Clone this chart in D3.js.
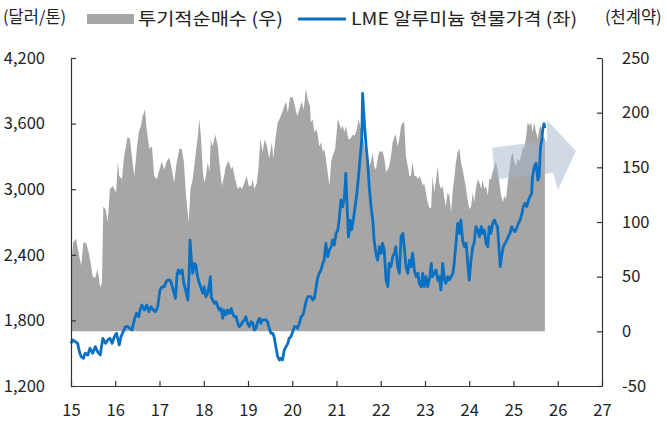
<!DOCTYPE html>
<html>
<head>
<meta charset="utf-8">
<script src="https://cdn.jsdelivr.net/npm/d3@7"></script>
<style>
  body { margin: 0; background: #fff; }
  svg text { font-family: "Noto Sans CJK KR", "Noto Sans", sans-serif; fill: #222; }
</style>
</head>
<body>
<svg id="chart"></svg>
<script>
// x values are positions on the year axis (15 = 2015 ... 27 = 2027)
const yearTicks = [15, 16, 17, 18, 19, 20, 21, 22, 23, 24, 25, 26, 27];
const priceTicks = [1200, 1800, 2400, 3000, 3600, 4200];
const contractTicks = [-50, 0, 50, 100, 150, 200, 250];

// speculative net long, thousand contracts (right axis)
const netLong = [
  [15.00,55],[15.05,81],[15.11,85],[15.17,72],[15.23,60],[15.28,81],[15.34,81],[15.40,72],[15.45,61],[15.49,50],
  [15.55,49],[15.60,57],[15.66,40],[15.70,45],[15.73,114],[15.78,112],[15.83,100],[15.88,130],[15.94,133],[16.02,127],
  [16.06,155],[16.09,142],[16.15,139],[16.20,160],[16.28,178],[16.33,176],[16.39,155],[16.43,142],[16.48,164],[16.53,182],
  [16.58,188],[16.62,197],[16.67,203],[16.71,185],[16.77,167],[16.83,169],[16.88,142],[16.94,139],[17.00,148],[17.05,155],
  [17.11,148],[17.16,155],[17.22,159],[17.28,148],[17.33,136],[17.39,155],[17.45,167],[17.50,167],[17.55,155],[17.60,124],
  [17.66,100],[17.70,130],[17.75,139],[17.81,160],[17.86,176],[17.90,194],[17.94,176],[17.98,146],[18.01,136],[18.05,142],
  [18.09,155],[18.13,146],[18.16,176],[18.20,169],[18.26,180],[18.32,169],[18.35,155],[18.41,133],[18.46,142],[18.50,151],
  [18.56,156],[18.62,148],[18.65,151],[18.71,139],[18.77,130],[18.82,133],[18.86,130],[18.92,136],[18.97,142],[19.02,133],
  [19.07,133],[19.11,139],[19.14,130],[19.20,136],[19.24,151],[19.28,176],[19.33,164],[19.38,176],[19.43,169],[19.48,158],
  [19.54,173],[19.57,158],[19.62,176],[19.67,191],[19.71,194],[19.77,200],[19.82,206],[19.86,210],[19.90,200],[19.95,214],
  [20.01,214],[20.06,206],[20.11,197],[20.16,203],[20.21,210],[20.26,203],[20.31,222],[20.35,212],[20.40,206],[20.42,191],
  [20.46,194],[20.50,182],[20.54,185],[20.58,179],[20.61,169],[20.65,173],[20.69,164],[20.72,167],[20.76,158],[20.80,146],
  [20.84,133],[20.88,155],[20.91,160],[20.97,167],[21.03,194],[21.06,191],[21.10,185],[21.14,188],[21.18,182],[21.21,188],
  [21.27,176],[21.31,176],[21.37,180],[21.41,179],[21.46,185],[21.50,194],[21.55,185],[21.59,179],[21.63,169],[21.67,158],
  [21.70,160],[21.74,151],[21.78,155],[21.82,164],[21.85,151],[21.89,148],[21.93,158],[21.97,165],[22.01,164],[22.04,165],
  [22.08,158],[22.12,146],[22.16,148],[22.19,151],[22.23,160],[22.27,173],[22.31,178],[22.34,180],[22.38,169],[22.42,176],
  [22.46,188],[22.50,191],[22.53,191],[22.57,160],[22.61,151],[22.65,142],[22.68,142],[22.72,155],[22.76,142],[22.80,142],
  [22.84,139],[22.87,142],[22.91,139],[22.95,133],[22.98,136],[23.02,127],[23.06,118],[23.11,112],[23.14,114],[23.17,142],
  [23.21,127],[23.25,139],[23.29,151],[23.32,136],[23.36,130],[23.40,133],[23.44,121],[23.47,114],[23.51,127],[23.55,124],
  [23.59,109],[23.63,130],[23.66,139],[23.70,155],[23.74,164],[23.78,167],[23.81,155],[23.85,148],[23.89,139],[23.93,130],
  [23.96,121],[24.00,112],[24.04,114],[24.08,127],[24.11,118],[24.15,130],[24.19,139],[24.23,136],[24.27,130],[24.30,139],
  [24.34,130],[24.38,133],[24.42,124],[24.45,139],[24.49,139],[24.53,146],[24.57,151],[24.60,155],[24.64,148],[24.68,136],
  [24.72,124],[24.76,118],[24.79,124],[24.83,121],[24.87,136],[24.91,148],[24.94,158],[24.98,164],[25.02,155],[25.06,151],
  [25.09,158],[25.13,155],[25.17,160],[25.21,169],[25.24,167],[25.28,176],[25.32,191],[25.36,188],[25.40,191],[25.43,182],
  [25.47,191],[25.51,182],[25.55,176],[25.58,185],[25.62,188],[25.66,179],[25.71,176]
];

// LME aluminium cash price, $/t (left axis)
const lmePrice = [
  [15.00,1590],[15.04,1621],[15.10,1605],[15.15,1590],[15.19,1514],[15.23,1468],[15.28,1453],[15.32,1499],[15.38,1484],[15.43,1545],
  [15.49,1499],[15.55,1560],[15.60,1514],[15.66,1484],[15.72,1636],[15.78,1590],[15.83,1621],[15.88,1636],[15.93,1590],[15.98,1651],
  [16.03,1682],[16.09,1575],[16.13,1651],[16.18,1697],[16.23,1743],[16.28,1743],[16.33,1728],[16.38,1712],[16.43,1804],[16.48,1865],
  [16.53,1834],[16.56,1895],[16.60,1941],[16.66,1895],[16.71,1941],[16.76,1880],[16.81,1925],[16.86,1895],[16.91,1880],[16.96,1925],
  [17.01,2078],[17.06,2108],[17.11,2108],[17.15,2154],[17.19,2169],[17.24,2169],[17.28,2124],[17.31,2078],[17.36,2002],[17.40,2231],
  [17.43,2261],[17.46,2231],[17.51,2261],[17.55,2139],[17.58,2094],[17.64,1987],[17.67,2231],[17.69,2535],[17.72,2352],[17.75,2231],
  [17.79,2322],[17.82,2307],[17.86,2200],[17.90,2139],[17.94,2094],[17.98,2048],[18.01,2108],[18.05,2017],[18.09,2048],[18.13,2139],
  [18.15,2200],[18.17,2017],[18.20,1987],[18.24,1957],[18.28,1971],[18.32,1925],[18.35,1895],[18.39,1910],[18.43,1819],[18.46,1895],
  [18.50,1849],[18.54,1895],[18.58,1865],[18.62,1910],[18.65,1865],[18.69,1834],[18.73,1834],[18.77,1773],[18.80,1743],[18.84,1758],
  [18.88,1788],[18.92,1804],[18.95,1834],[18.99,1773],[19.03,1743],[19.07,1788],[19.11,1773],[19.14,1712],[19.18,1728],[19.22,1788],
  [19.26,1819],[19.29,1773],[19.33,1804],[19.37,1804],[19.41,1804],[19.44,1788],[19.48,1728],[19.52,1682],[19.56,1682],[19.59,1651],
  [19.63,1560],[19.67,1468],[19.71,1438],[19.75,1453],[19.78,1438],[19.82,1529],[19.86,1560],[19.90,1590],[19.93,1636],[19.97,1651],
  [20.01,1697],[20.05,1743],[20.08,1743],[20.12,1728],[20.16,1773],[20.20,1834],[20.24,1849],[20.27,1895],[20.31,1971],[20.35,2017],
  [20.40,2017],[20.42,2017],[20.46,1987],[20.50,2002],[20.54,2108],[20.58,2200],[20.61,2231],[20.65,2261],[20.69,2322],[20.72,2352],
  [20.76,2505],[20.80,2383],[20.84,2444],[20.88,2474],[20.91,2535],[20.95,2489],[20.99,2596],[21.03,2627],[21.06,2718],[21.10,2901],
  [21.14,2840],[21.18,2931],[21.21,3145],[21.24,2840],[21.27,2565],[21.31,2718],[21.34,2627],[21.38,2718],[21.42,2840],[21.46,2962],
  [21.49,3084],[21.53,3267],[21.57,3450],[21.59,3877],[21.63,3603],[21.67,3389],[21.70,3267],[21.74,3023],[21.78,2840],[21.82,2718],
  [21.85,2535],[21.89,2414],[21.93,2352],[21.97,2474],[22.01,2414],[22.04,2505],[22.08,2444],[22.12,2169],[22.16,2108],[22.19,2322],
  [22.23,2291],[22.27,2383],[22.31,2414],[22.34,2474],[22.38,2291],[22.42,2231],[22.46,2565],[22.50,2596],[22.53,2474],[22.57,2291],
  [22.61,2231],[22.65,2352],[22.68,2291],[22.72,2414],[22.76,2261],[22.80,2200],[22.84,2231],[22.87,2139],[22.91,2108],[22.95,2231],
  [22.98,2108],[23.02,2200],[23.06,2108],[23.11,2200],[23.14,2322],[23.17,2200],[23.21,2231],[23.25,2261],[23.29,2169],[23.32,2200],
  [23.36,2078],[23.40,2322],[23.44,2169],[23.47,2139],[23.51,2200],[23.55,2169],[23.59,2200],[23.63,2231],[23.66,2322],[23.70,2505],
  [23.74,2688],[23.78,2596],[23.81,2718],[23.85,2535],[23.89,2474],[23.93,2505],[23.96,2352],[24.00,2169],[24.04,2352],[24.08,2474],
  [24.11,2505],[24.15,2657],[24.19,2627],[24.23,2565],[24.27,2657],[24.30,2596],[24.34,2627],[24.38,2505],[24.42,2474],[24.45,2657],
  [24.49,2596],[24.53,2688],[24.57,2718],[24.60,2688],[24.64,2657],[24.68,2414],[24.70,2291],[24.73,2383],[24.77,2474],[24.81,2505],
  [24.85,2535],[24.88,2565],[24.92,2596],[24.96,2657],[25.00,2627],[25.03,2611],[25.07,2642],[25.11,2688],[25.15,2718],[25.19,2779],
  [25.22,2840],[25.26,2871],[25.30,2840],[25.34,2901],[25.37,2931],[25.41,2962],[25.43,3114],[25.47,3206],[25.51,3237],[25.55,3084],
  [25.58,3114],[25.61,3389],[25.64,3450],[25.66,3541],[25.69,3600],[25.71,3560]
];

// trend arrow outline, in (year, thousand contracts) units
const arrowOutline = [
  [24.52,168],[25.76,174],[25.76,193],[26.41,165],[26.00,129],[25.90,145],[24.58,139]
];

const width = 667, height = 423;
const margin = {top: 58, right: 65, bottom: 37, left: 71};

const svg = d3.select('#chart')
    .attr('width', width)
    .attr('height', height);

const x = d3.scaleLinear().domain([15, 27]).range([margin.left, width - margin.right]);
const yLeft = d3.scaleLinear().domain([1200, 4200]).range([height - margin.bottom, margin.top]);
const yRight = d3.scaleLinear().domain([-50, 250]).range([height - margin.bottom, margin.top]);

// gray net-long area
const area = d3.area()
    .x(d => x(d[0]))
    .y0(yRight(0))
    .y1(d => yRight(d[1]));

svg.append('path')
    .datum(netLong)
    .attr('fill', '#a6a6a6')
    .attr('d', area);

// arrow
const arrowLine = d3.line()
    .x(d => x(d[0]))
    .y(d => yRight(d[1]));

svg.append('path')
    .attr('d', arrowLine(arrowOutline) + 'Z')
    .attr('fill', '#a3b4cd')
    .attr('fill-opacity', 0.5);

// price line
const line = d3.line()
    .x(d => x(d[0]))
    .y(d => yLeft(d[1]));

svg.append('path')
    .datum(lmePrice)
    .attr('fill', 'none')
    .attr('stroke', '#0a70c2')
    .attr('stroke-width', 2.8)
    .attr('stroke-linejoin', 'round')
    .attr('d', line);

// axes
const axisColor = '#333';

const leftAxis = svg.append('g')
    .attr('transform', `translate(${margin.left},0)`)
    .call(d3.axisLeft(yLeft).tickValues(priceTicks).tickFormat(d3.format(','))
      .tickSizeInner(-5).tickSizeOuter(0).tickPadding(26));

const rightAxis = svg.append('g')
    .attr('transform', `translate(${width - margin.right},0)`)
    .call(d3.axisRight(yRight).tickValues(contractTicks).tickFormat(d => String(d))
      .tickSizeInner(-5).tickSizeOuter(0).tickPadding(20));

const bottomAxis = svg.append('g')
    .attr('transform', `translate(0,${height - margin.bottom})`)
    .call(d3.axisBottom(x).tickValues(yearTicks).tickFormat(d3.format('d'))
      .tickSizeInner(-5).tickSizeOuter(0).tickPadding(25));

[leftAxis, rightAxis, bottomAxis].forEach(g => {
  g.selectAll('path, line').attr('stroke', axisColor).attr('stroke-width', 1.2);
  g.selectAll('text').attr('font-size', 16.5).attr('fill', '#222')
    .style('font-family', '"Noto Sans CJK KR", "Noto Sans", sans-serif');
});
bottomAxis.selectAll('text').attr('dy', '0.32em');

// unit labels and legend
svg.append('text').attr('x', 3).attr('y', 17).attr('dy', '0.35em')
    .attr('font-size', 16.5).text('(달러/톤)');
svg.append('text').attr('x', 605).attr('y', 17).attr('dy', '0.35em')
    .attr('font-size', 16.5).text('(천계약)');

svg.append('rect').attr('x', 87).attr('y', 14).attr('width', 47).attr('height', 10)
    .attr('fill', '#a6a6a6');
svg.append('text').attr('x', 138).attr('y', 19).attr('dy', '0.35em')
    .attr('font-size', 17.5).attr('textLength', 145).attr('lengthAdjust', 'spacingAndGlyphs')
    .text('투기적순매수 (우)');

svg.append('line').attr('x1', 298).attr('x2', 346).attr('y1', 19).attr('y2', 19)
    .attr('stroke', '#0a70c2').attr('stroke-width', 2.8);
svg.append('text').attr('x', 351).attr('y', 19).attr('dy', '0.35em')
    .attr('font-size', 17.5).attr('textLength', 226).attr('lengthAdjust', 'spacingAndGlyphs')
    .text('LME 알루미늄 현물가격 (좌)');
</script>
</body>
</html>
